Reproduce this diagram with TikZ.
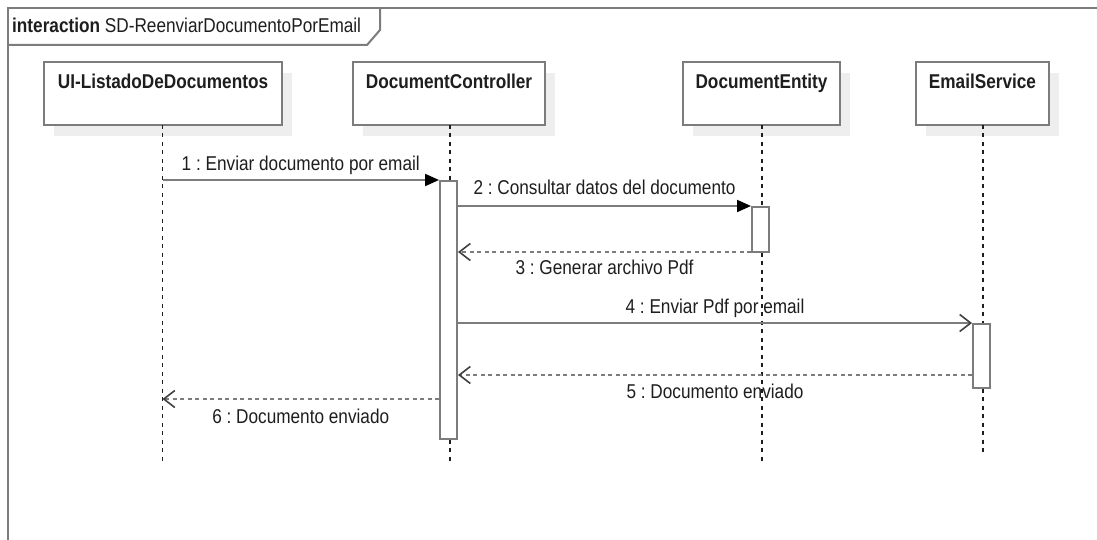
\documentclass[tikz,border=0pt]{standalone}
\usepackage{fontspec}
\setmainfont{Liberation Sans}[FakeStretch=0.86]
\frenchspacing
\usetikzlibrary{arrows.meta,shadows,calc}
\definecolor{edge}{HTML}{7C7C7C}
\definecolor{ink}{HTML}{1E1E1E}
\definecolor{shade}{HTML}{EEEEEE}
\tikzset{
  objbox/.style={draw=edge, line width=2pt, fill=white, minimum width=#1, minimum height=63pt,
    inner sep=0pt, anchor=north west,
    drop shadow={shadow xshift=10pt, shadow yshift=-11pt, fill=shade, opacity=1}},
  objname/.style={font=\fontsize{20}{23}\selectfont\bfseries, text=ink, anchor=base, inner sep=0pt},
  lifeline/.style={draw=ink, line width=1.5pt, dash pattern=on 4pt off 4.5pt},
  actbar/.style={draw=edge, line width=2pt, fill=white, minimum width=17pt, minimum height=#1,
    inner sep=0pt, anchor=north},
  callmsg/.style={draw=edge, line width=2pt, -{Triangle[length=14pt,width=12pt,color=black]}},
  asyncmsg/.style={draw=edge, line width=2pt, -{Straight Barb[length=11pt,width=17pt,line width=1.6pt,color=ink!85]}},
  replymsg/.style={draw=edge, line width=2pt, dash pattern=on 4pt off 3.5pt,
    -{Straight Barb[length=11pt,width=17pt,line width=1.6pt,color=ink!85]}},
  msglabel/.style={font=\fontsize{20}{23}\selectfont, text=ink, anchor=base, inner sep=0pt},
  framepen/.style={draw=edge, line width=2pt}
}
\begin{document}
\begin{tikzpicture}[x=1pt,y=-1pt]
\useasboundingbox (0,0) rectangle (1097,540);
\clip (0,0) rectangle (1097,540);

% interaction frame and its name tab
\draw[framepen] (8,560) -- (8,8) -- (1110,8);
\draw[framepen] (8,45) -- (367,45) -- (380,30) -- (380,8);
\node[anchor=base west, inner sep=0pt, text=ink, font=\fontsize{20}{23}\selectfont] (title) at (12,33)
  {\textbf{interaction} SD-ReenviarDocumentoPorEmail};

% participants
\node[objbox=238pt] (ui)  at (43,61)  {};
\node[objbox=192pt] (ctl) at (352,61) {};
\node[objbox=157pt] (ent) at (682,61) {};
\node[objbox=133pt] (eml) at (915,61) {};
\node[objname] (uiT)  at ($(ui.north)+(0,28)$)  {UI-ListadoDeDocumentos};
\node[objname] (ctlT) at ($(ctl.north)+(0,28)$) {DocumentController};
\node[objname] (entT) at ($(ent.north)+(0,28)$) {DocumentEntity};
\node[objname] (emlT) at ($(eml.north)+(0,28)$) {EmailService};

% lifelines
\coordinate (uiL0)  at (162.5,125); \coordinate (uiL1)  at (162.5,462);
\coordinate (ctlL0) at (450,125);   \coordinate (ctlL1) at (450,462);
\coordinate (entL0) at (762,125);   \coordinate (entL1) at (762,462);
\coordinate (emlL0) at (983,125);   \coordinate (emlL1) at (983,452);
\draw[lifeline] (uiL0) -- (uiL1);
\draw[lifeline] (ctlL0) -- (ctlL1);
\draw[lifeline] (entL0) -- (entL1);
\draw[lifeline] (emlL0) -- (emlL1);

% activation bars
\node[actbar=258pt] (actC) at (448.5,180) {};
\node[actbar=45pt]  (actE) at (760.5,206) {};
\node[actbar=64pt]  (actM) at (981.5,323) {};

% messages
\coordinate (m1s) at (uiL0 |- actC.north);
\draw[callmsg] (m1s) -- (actC.north west);
\node[msglabel] (l1) at ($(m1s)!0.5!(actC.north west)+(0,-9)$) {1 : Enviar documento por email};

\coordinate (m2s) at (actC.east |- actE.north);
\draw[callmsg] (m2s) -- (actE.north west);
\node[msglabel] (l2) at ($(m2s)!0.5!(actE.north west)+(0,-11)$) {2 : Consultar datos del documento};

\coordinate (m3s) at ($(actE.west)+(0,22.5)$);
\coordinate (m3e) at (actC.east |- m3s);
\draw[replymsg] (m3s) -- (m3e);
\node[msglabel] (l3) at ($(m3s)!0.5!(m3e)+(0,22)$) {3 : Generar archivo Pdf};

\coordinate (m4s) at (actC.east |- actM.north);
\draw[asyncmsg] (m4s) -- (actM.north west);
\node[msglabel] (l4) at ($(m4s)!0.5!(actM.north west)+(0,-10)$) {4 : Enviar Pdf por email};

\coordinate (m5s) at ($(actM.south west)+(0,-14)$);
\coordinate (m5e) at (actC.east |- m5s);
\draw[replymsg] (m5s) -- (m5e);
\node[msglabel] (l5) at ($(m5s)!0.5!(m5e)+(0,23)$) {5 : Documento enviado};

\coordinate (m6s) at (actC.west |- 0,399);
\coordinate (m6e) at (uiL0 |- m6s);
\draw[replymsg] (m6s) -- (m6e);
\node[msglabel] (l6) at ($(m6s)!0.5!(m6e)+(0,24)$) {6 : Documento enviado};
\end{tikzpicture}
\end{document}
